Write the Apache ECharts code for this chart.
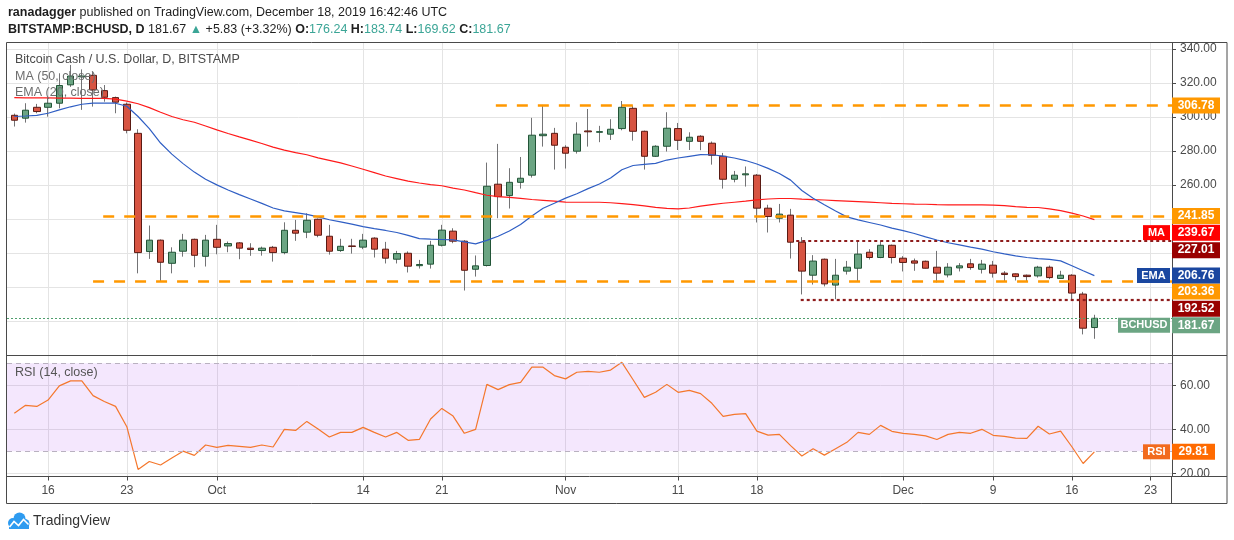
<!DOCTYPE html>
<html>
<head>
<meta charset="utf-8">
<script src="https://cdn.jsdelivr.net/npm/echarts@6/dist/echarts.min.js"></script>
<style>
html,body{margin:0;padding:0;background:#ffffff;}
#chart{width:1234px;height:540px;}
</style>
</head>
<body>
<div id="chart"></div>
<script>
// ---------------- DATA ----------------
const dates = [
'2019-09-13','2019-09-14','2019-09-15','2019-09-16','2019-09-17','2019-09-18','2019-09-19','2019-09-20','2019-09-21','2019-09-22',
'2019-09-23','2019-09-24','2019-09-25','2019-09-26','2019-09-27','2019-09-28','2019-09-29','2019-09-30','2019-10-01','2019-10-02',
'2019-10-03','2019-10-04','2019-10-05','2019-10-06','2019-10-07','2019-10-08','2019-10-09','2019-10-10','2019-10-11','2019-10-12',
'2019-10-13','2019-10-14','2019-10-15','2019-10-16','2019-10-17','2019-10-18','2019-10-19','2019-10-20','2019-10-21','2019-10-22',
'2019-10-23','2019-10-24','2019-10-25','2019-10-26','2019-10-27','2019-10-28','2019-10-29','2019-10-30','2019-10-31','2019-11-01',
'2019-11-02','2019-11-03','2019-11-04','2019-11-05','2019-11-06','2019-11-07','2019-11-08','2019-11-09','2019-11-10','2019-11-11',
'2019-11-12','2019-11-13','2019-11-14','2019-11-15','2019-11-16','2019-11-17','2019-11-18','2019-11-19','2019-11-20','2019-11-21',
'2019-11-22','2019-11-23','2019-11-24','2019-11-25','2019-11-26','2019-11-27','2019-11-28','2019-11-29','2019-11-30','2019-12-01',
'2019-12-02','2019-12-03','2019-12-04','2019-12-05','2019-12-06','2019-12-07','2019-12-08','2019-12-09','2019-12-10','2019-12-11',
'2019-12-12','2019-12-13','2019-12-14','2019-12-15','2019-12-16','2019-12-17','2019-12-18'];

const opens = [301.0,299.3,305.7,305.7,308.1,318.9,323.6,324.5,315.5,311.4,
307.5,290.4,220.9,227.6,214.0,221.1,228.1,218.1,228.1,224.2,
226.0,222.9,221.5,223.4,220.3,233.4,232.3,239.9,229.9,221.5,
224.2,223.5,228.8,222.3,216.4,219.9,212.6,213.5,224.6,232.9,
227.0,210.5,212.7,260.5,253.8,261.6,265.8,289.0,290.4,282.2,
279.9,291.8,291.0,289.9,293.2,305.1,291.6,276.9,282.8,293.2,
285.7,288.7,284.6,276.9,263.4,266.0,265.8,246.4,240.5,242.3,
226.4,207.0,216.4,201.2,209.4,211.1,220.5,217.4,224.6,217.0,
215.4,215.2,211.7,207.2,211.3,213.7,210.5,212.9,208.2,207.8,
207.0,206.6,211.7,205.1,207.0,195.9,176.24];

const highs = [302.0,308.1,307.7,311.4,325.7,330.6,328.0,326.5,318.8,312.0,
308.5,292.8,236.2,228.0,223.4,231.3,228.5,230.7,236.6,226.8,
226.5,225.8,223.8,224.2,238.1,239.5,243.4,240.3,236.6,228.4,
228.4,231.3,229.3,226.6,221.3,221.0,216.0,227.2,236.6,234.6,
227.6,218.6,273.2,284.2,269.9,276.5,299.5,307.1,293.6,283.4,
296.9,304.7,294.8,298.7,309.4,306.7,292.0,283.4,302.8,296.5,
291.0,289.3,285.6,278.9,268.3,270.9,266.5,248.4,248.9,246.0,
229.4,218.8,216.8,216.6,215.4,226.6,222.3,227.2,225.0,218.2,
216.8,215.6,221.3,214.1,214.1,216.6,216.0,215.4,209.4,208.0,
207.4,212.5,212.7,209.6,207.6,197.2,183.74];

const lows = [294.4,296.7,302.2,300.2,305.1,317.7,304.2,306.1,309.0,302.2,
290.4,208.1,216.6,203.3,208.1,217.9,211.7,212.1,219.3,220.5,
216.4,218.4,218.5,215.0,219.3,227.2,228.8,229.3,219.1,220.7,
219.7,222.3,217.4,213.9,213.9,208.6,210.9,210.9,223.9,225.8,
198.0,206.2,212.1,240.5,246.2,257.9,264.4,282.6,269.1,269.7,
278.5,282.6,285.2,286.5,292.2,286.1,269.1,276.5,279.7,280.6,
280.6,280.5,272.0,257.9,261.6,259.1,238.0,232.1,238.0,216.8,
195.7,201.5,200.4,192.9,207.4,203.3,216.2,217.0,213.9,209.2,
209.6,211.0,202.7,205.7,209.2,210.2,208.0,205.6,203.3,203.9,
203.5,205.6,204.7,205.0,192.9,172.2,169.62];

const closes = [298.1,304.0,303.2,308.1,318.5,324.1,324.1,315.9,311.6,308.7,
292.2,220.3,227.6,214.6,220.5,227.6,218.7,227.6,223.4,225.6,
222.9,222.1,222.9,220.3,233.4,231.7,239.3,230.5,221.1,224.0,
223.9,227.6,222.3,217.0,219.7,212.3,213.3,224.6,233.5,227.0,
209.9,212.5,259.3,253.2,261.6,264.0,289.3,289.9,283.4,278.7,
289.9,291.3,291.4,292.8,305.7,291.6,276.9,282.8,293.4,286.3,
288.1,285.7,277.5,263.4,265.8,266.6,246.4,241.5,242.9,226.4,
209.4,215.3,201.9,207.0,211.7,219.4,217.4,224.6,217.4,214.5,
214.1,211.1,208.2,211.7,212.5,211.5,213.5,208.2,207.4,206.2,
206.2,211.7,205.6,207.0,196.5,175.84,181.67];

const ma50 = [311.4,311.3,311.2,311.2,311.1,311.1,311.0,311.0,311.0,310.5,
309.3,307.8,305.5,302.8,300.3,298.4,296.9,294.7,292.4,290.3,
288.3,286.4,284.4,282.3,280.5,279.1,277.8,276.0,274.5,273.0,
271.2,269.3,267.3,265.3,263.8,262.3,261.2,260.3,259.6,258.2,
257.1,255.5,254.0,253.2,252.7,252.2,251.5,251.0,250.5,250.0,
249.9,249.9,249.9,249.6,249.1,248.5,247.8,246.9,246.3,246.0,
246.5,247.6,248.5,249.3,249.9,250.5,251.3,251.8,252.1,252.1,
251.7,251.4,251.2,250.9,250.6,250.3,250.0,249.6,249.2,249.0,
248.8,248.7,248.5,248.4,248.4,248.3,248.3,248.2,247.9,247.3,
246.9,246.8,246.0,245.0,243.5,241.8,239.67];

const ema20 = [300.3,300.6,301.0,302.2,304.2,306.0,307.5,308.1,308.2,308.1,
306.3,300.3,293.2,284.7,278.2,272.6,267.6,263.4,260.1,257.1,
254.4,251.8,249.2,246.5,244.8,243.8,242.8,241.3,239.6,238.3,
237.0,235.6,234.4,233.3,232.1,230.4,228.5,228.2,228.0,227.8,
226.6,225.4,227.5,229.9,233.0,236.8,241.8,246.4,249.3,252.3,
254.9,257.9,260.6,264.1,269.0,271.5,272.1,272.7,274.7,275.9,
276.9,277.9,277.8,277.0,275.9,274.4,272.4,269.8,266.8,262.9,
256.8,252.2,248.4,244.7,241.3,239.5,238.0,236.5,234.7,233.2,
231.5,229.5,227.7,226.1,224.8,223.5,222.3,220.8,219.5,218.4,
217.4,216.7,216.3,215.4,212.6,209.6,206.76];

const rsi14 = [47.3,50.9,50.4,53.3,59.7,62.0,62.0,55.3,52.6,50.4,
41.2,21.8,25.4,23.8,27.0,30.1,28.2,32.9,31.8,32.7,
32.3,31.8,32.9,32.0,40.0,39.5,43.6,40.1,36.5,38.6,
38.6,40.9,38.6,36.5,38.6,35.0,35.4,44.7,49.5,46.0,
38.2,40.0,60.4,58.0,60.3,61.3,68.2,68.2,64.4,62.9,
65.9,66.3,65.9,66.9,70.4,62.5,54.5,56.8,60.4,56.8,
57.7,56.2,51.8,45.9,46.8,47.1,39.2,37.4,37.7,32.6,
27.9,31.2,28.3,31.2,34.1,38.6,37.7,41.8,39.1,38.2,
37.7,37.0,35.4,37.7,38.6,38.2,40.0,37.3,36.8,36.0,
35.9,41.4,37.9,39.2,32.1,24.5,29.81];

const tickDates  = ['2019-09-16','2019-09-23','2019-10-01','2019-10-14','2019-10-21','2019-11-01','2019-11-11','2019-11-18','2019-12-01','2019-12-09','2019-12-16','2019-12-23'];
const tickLabels = ['16','23','Oct','14','21','Nov','11','18','Dec','9','16','23'];
const priceGridValues = [180,200,220,240,260,280,300,320,340];
const priceLabelValues = [260,280,300,320,340];
const rsiGridValues = [20,40,60];
const rsiBand = [30,70];

// drawn horizontal levels (value, start day offset from first date)
const orangeLevels = [306.78, 241.85, 203.36];
const orangeFromDay = [42.8, 7.9, 7.0];
const redLevels = [227.01, 192.52];
const redFromDay = [69.5, 69.9];

// ---------------- LAYOUT / STYLE ----------------
const FONT = 'Liberation Sans';
const xMin = -0.65, xMax = 102.9;
const priceMin = 159.8, priceMax = 343.5;
const rsiMin = 18.6, rsiMax = 73.5;
const GRID = '#E4E4E4';
const AXIS = '#4A4A4A';

const DAY = 86400000;
function dayOf(s){ const p = s.split('-').map(Number); return (Date.UTC(p[0],p[1]-1,p[2]) - Date.UTC(2019,8,13)) / DAY; }
const xDay = dates.map(dayOf);
const tickDay = tickDates.map(dayOf);
const N = dates.length;
const lastClose = closes[N-1];
const prevClose = closes[N-2];

function tagLabel(value, bg, name, nameBg, nameW, valW, dy) {
  const base = {fontFamily: FONT, fontSize: 12, lineHeight: 13, color: '#ffffff'};
  const rich = { v: Object.assign({}, base, {fontWeight: 'bold', backgroundColor: bg, padding: [2,4,2,4], width: valW, align: 'center'}) };
  let text = '{v|' + value.toFixed(2) + '}';
  let dx = 0;
  if (name) {
    rich.n = Object.assign({}, base, {fontSize: 11, fontWeight: 'bold', backgroundColor: nameBg, padding: [2,2,2,2], width: nameW, align: 'right'});
    rich.g = Object.assign({}, base, {width: 2});
    text = '{n|' + name + '}{g| }' + text;
    dx = -(nameW + 4 + 2);
  }
  return {show: true, position: 'end', distance: 0, opacity: 1, formatter: text, rich: rich, offset: [dx, dy]};
}
const HIDDEN_LINE = {color: 'rgba(0,0,0,0)', width: 0, opacity: 1};

const bodyMarks = [];
const orangeShift = [0, 0, 10];
orangeLevels.forEach(function (v, k) {
  bodyMarks.push([
    {coord: [orangeFromDay[k], v], lineStyle: {color: '#FF9800', width: 2.5, type: [11, 10]}, label: tagLabel(v, '#FF9800', null, null, 0, 40, orangeShift[k])},
    {coord: [xMax, v]}
  ]);
});
const redShift = [9, 9];
redLevels.forEach(function (v, k) {
  bodyMarks.push([
    {coord: [redFromDay[k], v], lineStyle: {color: '#8E1C1C', width: 2.2, type: [3, 3]}, label: tagLabel(v, '#990000', null, null, 0, 40, redShift[k])},
    {coord: [xMax, v]}
  ]);
});
bodyMarks.push([
  {coord: [xMin, lastClose], lineStyle: {color: '#4E9E6D', width: 1, type: [2, 2]}, label: tagLabel(lastClose, '#6BA583', 'BCHUSD', '#6BA583', 48, 40, 7)},
  {coord: [xMax, lastClose]}
]);

const wickData = xDay.map(function (x, i) { return [x, opens[i], closes[i], lows[i], highs[i]]; });
const bodyData = xDay.map(function (x, i) { return [x, opens[i], closes[i], Math.min(opens[i], closes[i]), Math.max(opens[i], closes[i])]; });
const maData = xDay.map(function (x, i) { return [x, ma50[i]]; });
const emaData = xDay.map(function (x, i) { return [x, ema20[i]]; });
const rsiData = xDay.map(function (x, i) { return [x, rsi14[i]]; });

const lastMA = ma50[N-1], lastEMA = ema20[N-1], lastRSI = rsi14[N-1];
const chg = lastClose - prevClose;
const pct = chg / prevClose * 100;

function tickLabelOf(v) {
  for (let k = 0; k < tickDay.length; k++) if (Math.abs(tickDay[k] - v) < 0.01) return tickLabels[k];
  return '';
}

const hdrRich = {
  b: {fontFamily: FONT, fontSize: 12.5, fontWeight: 'bold', fill: '#1E1E1E'},
  n: {fontFamily: FONT, fontSize: 12.5, fill: '#1E1E1E'},
  t: {fontFamily: FONT, fontSize: 12.5, fill: '#3BA596'}
};
const line2 = '{b|BITSTAMP:BCHUSD, D}{n| ' + lastClose.toFixed(2) + ' }{t|▲}{n| +' + chg.toFixed(2) + ' (+' + pct.toFixed(2) + '%) }'
  + '{b|O:}{t|' + opens[N-1].toFixed(2) + '}{n| }{b|H:}{t|' + highs[N-1].toFixed(2) + '}{n| }'
  + '{b|L:}{t|' + lows[N-1].toFixed(2) + '}{n| }{b|C:}{t|' + closes[N-1].toFixed(2) + '}';

const chart = echarts.init(document.getElementById('chart'), null, {renderer: 'canvas', width: 1234, height: 540});

const option = {
  backgroundColor: '#ffffff',
  animation: false,
  textStyle: {fontFamily: FONT},
  grid: [
    {left: 7, right: 62, top: 43, height: 312.5, containLabel: false, outerBoundsMode: 'none'},
    {left: 7, right: 62, top: 355.5, height: 121, containLabel: false, outerBoundsMode: 'none'}
  ],
  xAxis: [
    {type: 'value', gridIndex: 0, min: xMin, max: xMax,
     axisLine: {show: false, onZero: false}, axisTick: {show: false, customValues: tickDay},
     axisLabel: {show: false, customValues: tickDay},
     splitLine: {show: true, lineStyle: {color: GRID, width: 1}}},
    {type: 'value', gridIndex: 1, min: xMin, max: xMax, position: 'bottom',
     axisLine: {show: true, onZero: false, lineStyle: {color: AXIS, width: 1}},
     axisTick: {show: true, length: 4, customValues: tickDay, lineStyle: {color: AXIS}},
     axisLabel: {show: true, customValues: tickDay, formatter: tickLabelOf, color: '#4A4A4A', fontSize: 12, fontFamily: FONT, margin: 8},
     splitLine: {show: true, lineStyle: {color: GRID, width: 1}}}
  ],
  yAxis: [
    {type: 'value', gridIndex: 0, position: 'right', min: priceMin, max: priceMax,
     axisLine: {show: true, onZero: false, lineStyle: {color: AXIS, width: 1}},
     axisTick: {show: true, length: 4, customValues: priceGridValues, lineStyle: {color: AXIS}},
     axisLabel: {show: true, customValues: priceLabelValues, formatter: function (v) { return v.toFixed(2); }, color: '#4A4A4A', fontSize: 12, fontFamily: FONT, margin: 8},
     splitLine: {show: true, lineStyle: {color: GRID, width: 1}}},
    {type: 'value', gridIndex: 1, position: 'right', min: rsiMin, max: rsiMax,
     axisLine: {show: true, onZero: false, lineStyle: {color: AXIS, width: 1}},
     axisTick: {show: true, length: 4, customValues: rsiGridValues, lineStyle: {color: AXIS}},
     axisLabel: {show: true, customValues: rsiGridValues, formatter: function (v) { return v.toFixed(2); }, color: '#4A4A4A', fontSize: 12, fontFamily: FONT, margin: 8},
     splitLine: {show: true, lineStyle: {color: GRID, width: 1}}}
  ],
  series: [
    {type: 'candlestick', name: 'wick', xAxisIndex: 0, yAxisIndex: 0, data: wickData, barWidth: 1, z: 2,
     itemStyle: {color: '#737375', color0: '#737375', borderColor: '#737375', borderColor0: '#737375', borderWidth: 1}},
    {type: 'candlestick', name: 'BCHUSD', xAxisIndex: 0, yAxisIndex: 0, data: bodyData, barWidth: 7, z: 3,
     itemStyle: {color: '#6BA583', color0: '#D75442', borderColor: '#225437', borderColor0: '#5B1A13', borderWidth: 1},
     markLine: {silent: true, symbol: ['none', 'none'], animation: false, data: bodyMarks}},
    {type: 'line', name: 'MA', xAxisIndex: 0, yAxisIndex: 0, data: maData, showSymbol: false, symbol: 'none', z: 4,
     lineStyle: {color: '#FF1A1A', width: 1.2},
     markLine: {silent: true, symbol: ['none', 'none'], animation: false,
       data: [[{coord: [xMax - 0.5, lastMA], lineStyle: HIDDEN_LINE, label: tagLabel(lastMA, '#FF0000', 'MA', '#FF0000', 23, 40, 13)}, {coord: [xMax, lastMA]}]]}},
    {type: 'line', name: 'EMA', xAxisIndex: 0, yAxisIndex: 0, data: emaData, showSymbol: false, symbol: 'none', z: 4,
     lineStyle: {color: '#2F5EC4', width: 1.2},
     markLine: {silent: true, symbol: ['none', 'none'], animation: false,
       data: [[{coord: [xMax - 0.5, lastEMA], lineStyle: HIDDEN_LINE, label: tagLabel(lastEMA, '#1A47A0', 'EMA', '#1A47A0', 29, 40, 0)}, {coord: [xMax, lastEMA]}]]}},
    {type: 'line', name: 'RSI', xAxisIndex: 1, yAxisIndex: 1, data: rsiData, showSymbol: false, symbol: 'none', z: 4,
     lineStyle: {color: '#F4772C', width: 1.2},
     markArea: {silent: true, itemStyle: {color: 'rgba(155,39,240,0.11)'}, data: [[{yAxis: rsiBand[0]}, {yAxis: rsiBand[1]}]]},
     markLine: {silent: true, symbol: ['none', 'none'], animation: false,
       data: [
         {yAxis: rsiBand[1], lineStyle: {color: '#B9B1C0', width: 1, type: [5, 4]}, label: {show: false}},
         {yAxis: rsiBand[0], lineStyle: {color: '#B9B1C0', width: 1, type: [5, 4]}, label: {show: false}},
         [{coord: [xMax - 0.5, lastRSI], lineStyle: HIDDEN_LINE, label: tagLabel(lastRSI, '#FF6A00', 'RSI', '#F26B1E', 23, 35, 0)}, {coord: [xMax, lastRSI]}]
       ]}}
  ],
  graphic: [
    {type: 'rect', silent: true, z: 50, shape: {x: 6.5, y: 42.5, width: 1220.5, height: 461}, style: {fill: 'none', stroke: AXIS, lineWidth: 1}},
    {type: 'line', silent: true, z: 50, shape: {x1: 6.5, y1: 355.5, x2: 1227, y2: 355.5}, style: {stroke: AXIS, lineWidth: 1}},
    {type: 'line', silent: true, z: 50, shape: {x1: 1172, y1: 476.5, x2: 1227, y2: 476.5}, style: {stroke: AXIS, lineWidth: 1}},
    {type: 'line', silent: true, z: 50, shape: {x1: 1171.5, y1: 476.5, x2: 1171.5, y2: 503.5}, style: {stroke: AXIS, lineWidth: 1}},
    {type: 'text', silent: true, z: 60, x: 8, y: 13, style: {text: '{b|ranadagger}{n| published on TradingView.com, December 18, 2019 16:42:46 UTC}', rich: hdrRich, verticalAlign: 'middle', align: 'left'}},
    {type: 'text', silent: true, z: 60, x: 8, y: 30, style: {text: line2, rich: hdrRich, verticalAlign: 'middle', align: 'left'}},
    {type: 'text', silent: true, z: 60, x: 15, y: 60, style: {text: 'Bitcoin Cash / U.S. Dollar, D, BITSTAMP', font: '12.5px "Liberation Sans"', fill: '#4A4A4A', verticalAlign: 'middle'}},
    {type: 'text', silent: true, z: 60, x: 15, y: 77, style: {text: 'MA (50, close)', font: '12.5px "Liberation Sans"', fill: '#6E6E6E', verticalAlign: 'middle'}},
    {type: 'text', silent: true, z: 60, x: 15, y: 93, style: {text: 'EMA (20, close)', font: '12.5px "Liberation Sans"', fill: '#6E6E6E', verticalAlign: 'middle'}},
    {type: 'text', silent: true, z: 60, x: 15, y: 373, style: {text: 'RSI (14, close)', font: '12.5px "Liberation Sans"', fill: '#555555', verticalAlign: 'middle'}},
    {type: 'group', silent: true, z: 60, children: [
      {type: 'circle', shape: {cx: 13, cy: 523, r: 5}, style: {fill: '#2E9BF0'}},
      {type: 'circle', shape: {cx: 19.5, cy: 518.5, r: 6}, style: {fill: '#2E9BF0'}},
      {type: 'circle', shape: {cx: 25, cy: 523.5, r: 4.5}, style: {fill: '#2E9BF0'}},
      {type: 'rect', shape: {x: 9, y: 522, width: 20, height: 7}, style: {fill: '#2E9BF0'}},
      {type: 'polyline', shape: {points: [[9.5, 527], [14, 521.5], [18.5, 525.5], [23.5, 519.5], [28.5, 524.5]]}, style: {stroke: '#ffffff', lineWidth: 1.6, fill: 'none'}}
    ]},
    {type: 'text', silent: true, z: 60, x: 33, y: 521, style: {text: 'TradingView', font: '14px "Liberation Sans"', fill: '#333333', verticalAlign: 'middle'}}
  ]
};
chart.setOption(option);
</script>
</body>
</html>
